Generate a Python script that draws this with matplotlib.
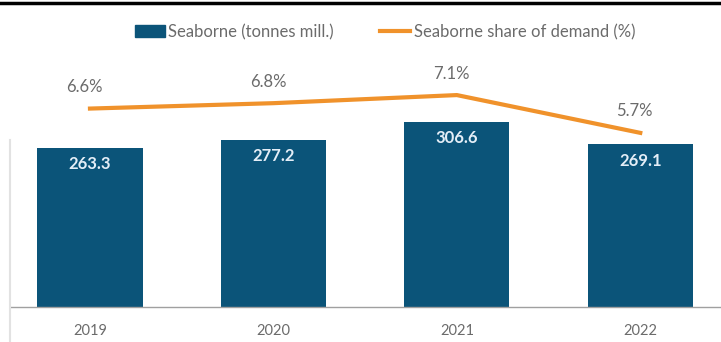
import matplotlib.pyplot as plt
from matplotlib.lines import Line2D
from matplotlib.patches import Patch

plt.rcParams['font.family'] = ['Lato', 'DejaVu Sans']

years = ['2019', '2020', '2021', '2022']
seaborne = [263.3, 277.2, 306.6, 269.1]
share = [6.6, 6.8, 7.1, 5.7]

blue = '#0b5479'
orange = '#f0922b'
grey_txt = '#6b6b6b'

W, H = 721, 342
fig = plt.figure(figsize=(W / 100, H / 100), dpi=100)
# axes box in pixels: left 10, right 721, bottom baseline at y=307, top at y=40
ax = fig.add_axes([10 / W, (H - 307) / H, 711 / W, 267 / H])
x = range(len(years))

ax.bar(x, seaborne, width=0.573, color=blue, zorder=2)
for i, v in enumerate(seaborne):
    ax.text(i, v - 14, f'{v:.1f}', ha='center', va='top', color='#e4eef7',
            fontsize=12, fontweight='bold', zorder=3)

ax.set_xlim(-0.436, 3.44)
ax.set_ylim(0, 442)
ax.set_xticks(list(x))
ax.set_xticklabels(years, color=grey_txt, fontsize=10.5)
ax.tick_params(axis='x', length=0, pad=12)
ax.set_yticks([])
for s in ['top', 'right', 'left']:
    ax.spines[s].set_visible(False)
ax.spines['bottom'].set_color('#a0a0a0')
ax.spines['bottom'].set_linewidth(1)

ax2 = ax.twinx()
ax2.plot(x, share, color=orange, lw=3, zorder=4)
ax2.set_ylim(-0.75, 9.14)
ax2.set_yticks([])
for s in ax2.spines.values():
    s.set_visible(False)
for i, v in enumerate(share):
    ax2.text(i - 0.03, v + 0.5, f'{v:.1f}%', ha='center', va='bottom',
             color=grey_txt, fontsize=12)

# top rule and faint left edge
fig.add_artist(Line2D([0, 1], [1 - 3 / H, 1 - 3 / H], color='black', lw=2.5))
fig.add_artist(Line2D([10 / W, 10 / W], [0, (H - 140) / H], color='#e2e2e2', lw=1.5))

handles = [Patch(color=blue), Line2D([], [], color=orange, lw=3)]
fig.legend(handles, ['Seaborne (tonnes mill.)', 'Seaborne share of demand (%)'],
           loc='center', bbox_to_anchor=(385 / W, 1 - 32 / H), ncol=2,
           frameon=False, fontsize=12, labelcolor=grey_txt,
           handlelength=1.8, handletextpad=0.2, columnspacing=2.8)

fig.savefig('out.png', dpi=100)
